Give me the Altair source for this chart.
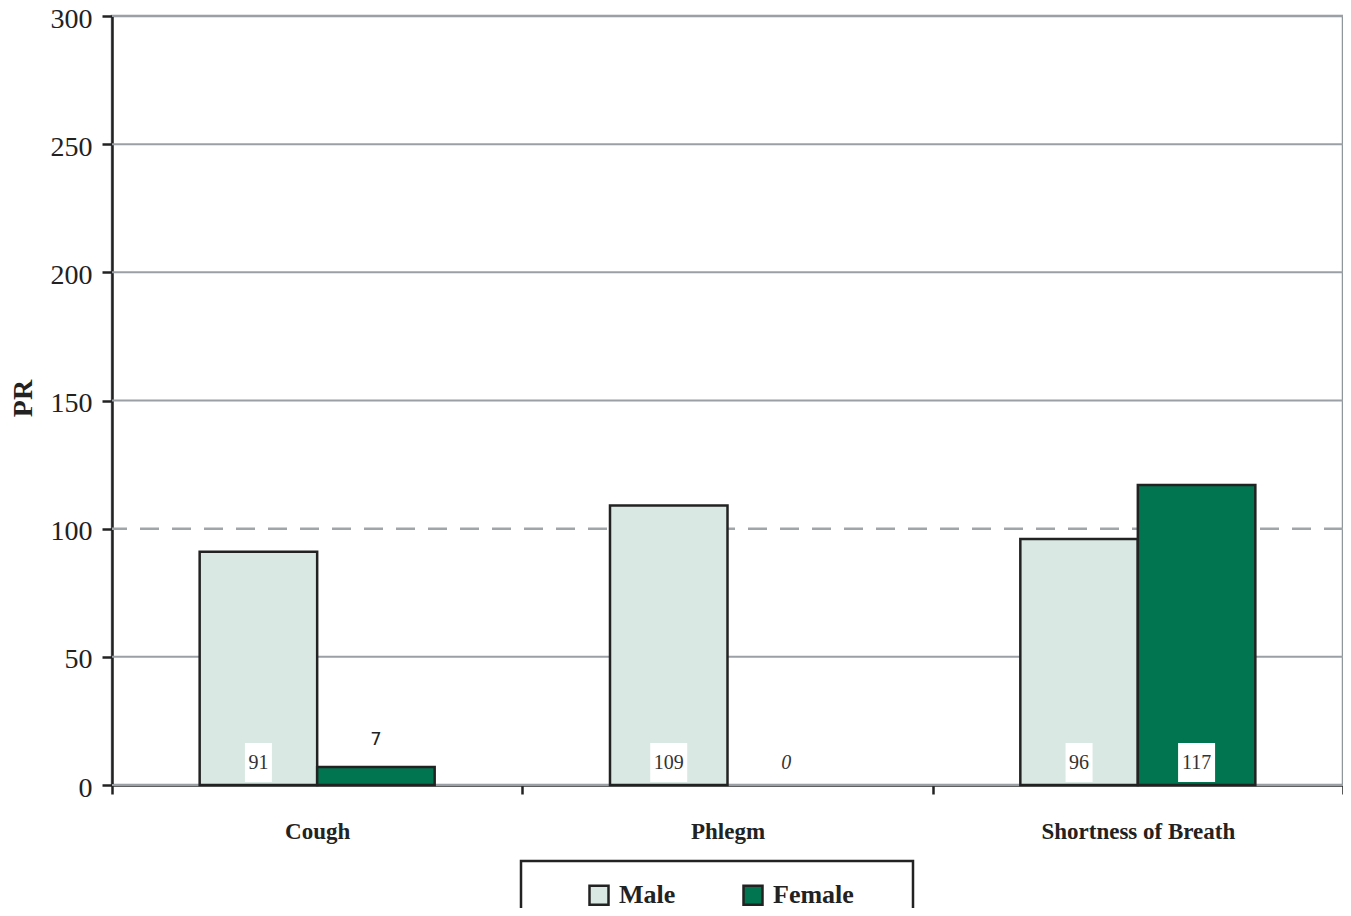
import altair as alt
import pandas as pd

categories = ["Cough", "Phlegm", "Shortness of Breath"]
sexes = ["Male", "Female"]
male_pr = [91, 109, 96]
female_pr = [7, 0, 117]
y_ticks = [0, 50, 100, 150, 200, 250, 300]
grid_values = [0, 50, 150, 200, 250, 300]
reference_pr = [100]

rows = []
for c, m, f in zip(categories, male_pr, female_pr):
    rows.append({"Category": c, "Sex": "Male", "PR": m})
    rows.append({"Category": c, "Sex": "Female", "PR": f})
df = pd.DataFrame(rows)

SERIF = "Liberation Serif"
PAD = "\u2800" * 2
x_enc = alt.X("Category:N", sort=categories,
              scale=alt.Scale(domain=categories, paddingInner=0, paddingOuter=0),
              axis=alt.Axis(title=None, labelAngle=0, labelFont=SERIF, labelFontWeight="bold",
                            labelFontSize=23, labelColor="#222", labelPadding=26, labelLimit=0,
                            tickBand="extent", tickColor="#222", tickWidth=2.5, tickSize=9,
                            domainColor="#333", domainWidth=2.5, grid=False))
xo_enc = alt.XOffset("Sex:N", sort=sexes,
                     scale=alt.Scale(domain=sexes, paddingOuter=0.746, paddingInner=0))
y_scale = alt.Scale(domain=[0, 300], nice=False)

base = alt.Chart(df)

grid = alt.Chart(pd.DataFrame({"g": grid_values})).mark_rule(
    color="#9aa0a6", strokeWidth=2
).encode(y=alt.Y("g:Q", scale=y_scale))

ref_rule = alt.Chart(pd.DataFrame({"ref": reference_pr})).mark_rule(
    color="#a0a5aa", strokeWidth=2.5, strokeDash=[19, 13]
).encode(y=alt.Y("ref:Q", scale=y_scale))

bars = base.transform_filter("datum.PR > 0").mark_bar(stroke="#222", strokeWidth=2.5).encode(
    x=x_enc, xOffset=xo_enc,
    y=alt.Y("PR:Q", scale=y_scale,
            axis=alt.Axis(values=y_ticks, title="PR", titleFont=SERIF, titleFontSize=28,
                          titleFontWeight="bold", titleColor="#222", titleAngle=270,
                          titleX=-89, titleY=382, titleAlign="center", titleBaseline="middle",
                          labelFont=SERIF, labelFontSize=28, labelColor="#222", labelPadding=10,
                          labelOffset=3,
                          tickColor="#222", tickWidth=2.5, tickSize=10,
                          domainColor="#222", domainWidth=2.5, grid=False)),
    color=alt.Color("Sex:N", sort=sexes,
                    scale=alt.Scale(domain=sexes, range=["#d9e8e2", "#00754f"]),
                    legend=alt.Legend(title=None, orient="none", legendX=409, legendY=845,
                                      direction="horizontal", symbolType="square",
                                      symbolSize=361, symbolStrokeColor="#222",
                                      symbolStrokeWidth=2.5, labelFont=SERIF,
                                      labelFontWeight="bold", labelFontSize=26,
                                      labelColor="#222", labelOffset=7, columnPadding=20,
                                      labelExpr="datum.label == 'Female' ? datum.label + '" + PAD + "' : datum.label",
                                      padding=21, strokeColor="#222", symbolOffset=44)),
)

boxes = base.transform_filter("datum.PR >= 50").transform_calculate(
    boxw="length(toString(datum.PR)) * 10 + 7", top="16.4", bot="1.2"
).mark_bar(color="white").encode(
    x=x_enc, xOffset=xo_enc,
    y=alt.Y("top:Q", scale=y_scale), y2="bot:Q",
    size=alt.Size("boxw:Q", scale=None, legend=None),
)

inside_labels = base.transform_filter("datum.PR >= 50").transform_calculate(zero="0").mark_text(
    font=SERIF, fontSize=20, color="#333", baseline="middle", dy=-22
).encode(x=x_enc, xOffset=xo_enc, y=alt.Y("zero:Q", scale=y_scale), text="PR:Q")

above_labels = base.transform_filter("datum.PR > 0 && datum.PR < 50").mark_text(
    font="DejaVu Sans", fontSize=18, color="#222", baseline="bottom", dy=-18
).encode(x=x_enc, xOffset=xo_enc, y=alt.Y("PR:Q", scale=y_scale), text="PR:Q")

zero_labels = base.transform_filter("datum.PR == 0").transform_calculate(zero="0").mark_text(
    font=SERIF, fontSize=20, fontStyle="italic", color="#333", baseline="middle", dy=-22
).encode(x=x_enc, xOffset=xo_enc, y=alt.Y("zero:Q", scale=y_scale), text="PR:Q")

chart = alt.layer(grid, ref_rule, bars, boxes, inside_labels, above_labels, zero_labels).properties(
    width=1231, height=769,
    autosize=alt.AutoSizeParams(type="none"),
    padding={"left": 104, "top": 8, "right": 0, "bottom": 123},
).configure_view(stroke="#8f969c", strokeWidth=2.5).configure_legend(strokeWidth=2.5)

chart.save("out.html", embed_options={"renderer": "svg", "actions": False})
